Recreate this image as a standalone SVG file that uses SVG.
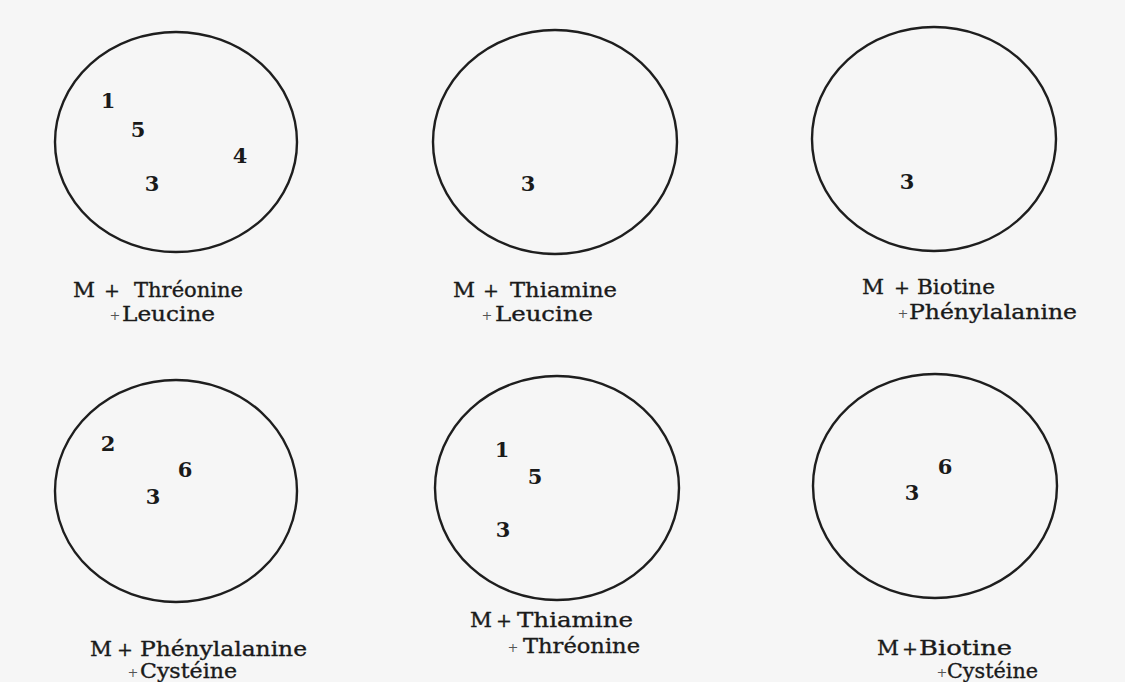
<svg xmlns="http://www.w3.org/2000/svg" width="1125" height="682" viewBox="0 0 1125 682">
<style>
.plate{fill:none;stroke:#1e1e1e;stroke-width:2.4}
.num{font-family:"DejaVu Serif","Liberation Serif",serif;font-weight:bold;font-size:21px;fill:#1a1a1a;text-anchor:middle}
.lbl{font-family:"DejaVu Serif","Liberation Serif",serif;font-size:20px;fill:#1a1a1a;stroke:#1a1a1a;stroke-width:0.35}
.pl{font-family:"DejaVu Serif","Liberation Serif",serif;font-size:19px;fill:#1a1a1a;text-anchor:middle;stroke:#1a1a1a;stroke-width:0.3}
.dot{font-family:"DejaVu Serif","Liberation Serif",serif;font-size:13px;fill:#555;text-anchor:middle}
</style>
<rect width="1125" height="682" fill="#f6f6f6"/>

<g id="plate1">
<ellipse class="plate" cx="176" cy="142" rx="121" ry="110"/>
<text class="num" x="108" y="108">1</text>
<text class="num" x="138" y="137">5</text>
<text class="num" x="240" y="163">4</text>
<text class="num" x="152" y="191">3</text>
<text class="lbl" x="73" y="297" textLength="22" lengthAdjust="spacingAndGlyphs">M</text>
<text class="pl" x="112" y="297">+</text>
<text class="lbl" x="134" y="297" textLength="109" lengthAdjust="spacingAndGlyphs">Thréonine</text>
<text class="dot" x="115" y="320">+</text>
<text class="lbl" x="122" y="321" textLength="93" lengthAdjust="spacingAndGlyphs">Leucine</text>
</g>

<g id="plate2">
<ellipse class="plate" cx="555" cy="142" rx="122" ry="112"/>
<text class="num" x="528" y="191">3</text>
<text class="lbl" x="453" y="297" textLength="22" lengthAdjust="spacingAndGlyphs">M</text>
<text class="pl" x="491" y="297">+</text>
<text class="lbl" x="510" y="297" textLength="107" lengthAdjust="spacingAndGlyphs">Thiamine</text>
<text class="dot" x="487" y="320">+</text>
<text class="lbl" x="495" y="321" textLength="98" lengthAdjust="spacingAndGlyphs">Leucine</text>
</g>

<g id="plate3">
<ellipse class="plate" cx="934" cy="139" rx="122" ry="112"/>
<text class="num" x="907" y="189">3</text>
<text class="lbl" x="862" y="294" textLength="22" lengthAdjust="spacingAndGlyphs">M</text>
<text class="pl" x="902" y="294">+</text>
<text class="lbl" x="917" y="294" textLength="78" lengthAdjust="spacingAndGlyphs">Biotine</text>
<text class="dot" x="903" y="318">+</text>
<text class="lbl" x="909" y="319" textLength="168" lengthAdjust="spacingAndGlyphs">Phénylalanine</text>
</g>

<g id="plate4">
<ellipse class="plate" cx="176" cy="491" rx="121" ry="111"/>
<text class="num" x="108" y="451">2</text>
<text class="num" x="185" y="477">6</text>
<text class="num" x="153" y="504">3</text>
<text class="lbl" x="90" y="656" textLength="22" lengthAdjust="spacingAndGlyphs">M</text>
<text class="pl" x="125" y="656">+</text>
<text class="lbl" x="140" y="656" textLength="167" lengthAdjust="spacingAndGlyphs">Phénylalanine</text>
<text class="dot" x="133" y="677">+</text>
<text class="lbl" x="140" y="678" textLength="97" lengthAdjust="spacingAndGlyphs">Cystéine</text>
</g>

<g id="plate5">
<ellipse class="plate" cx="557" cy="488" rx="122" ry="112"/>
<text class="num" x="502" y="457">1</text>
<text class="num" x="535" y="484">5</text>
<text class="num" x="503" y="537">3</text>
<text class="lbl" x="470" y="627" textLength="22" lengthAdjust="spacingAndGlyphs">M</text>
<text class="pl" x="504" y="627">+</text>
<text class="lbl" x="517" y="627" textLength="116" lengthAdjust="spacingAndGlyphs">Thiamine</text>
<text class="dot" x="513" y="652">+</text>
<text class="lbl" x="523" y="653" textLength="117" lengthAdjust="spacingAndGlyphs">Thréonine</text>
</g>

<g id="plate6">
<ellipse class="plate" cx="935" cy="486" rx="122" ry="112"/>
<text class="num" x="945" y="474">6</text>
<text class="num" x="912" y="500">3</text>
<text class="lbl" x="877" y="655" textLength="22" lengthAdjust="spacingAndGlyphs">M</text>
<text class="pl" x="910" y="655">+</text>
<text class="lbl" x="919" y="655" textLength="93" lengthAdjust="spacingAndGlyphs">Biotine</text>
<text class="dot" x="942" y="677">+</text>
<text class="lbl" x="947" y="678" textLength="91" lengthAdjust="spacingAndGlyphs">Cystéine</text>
</g>
</svg>
